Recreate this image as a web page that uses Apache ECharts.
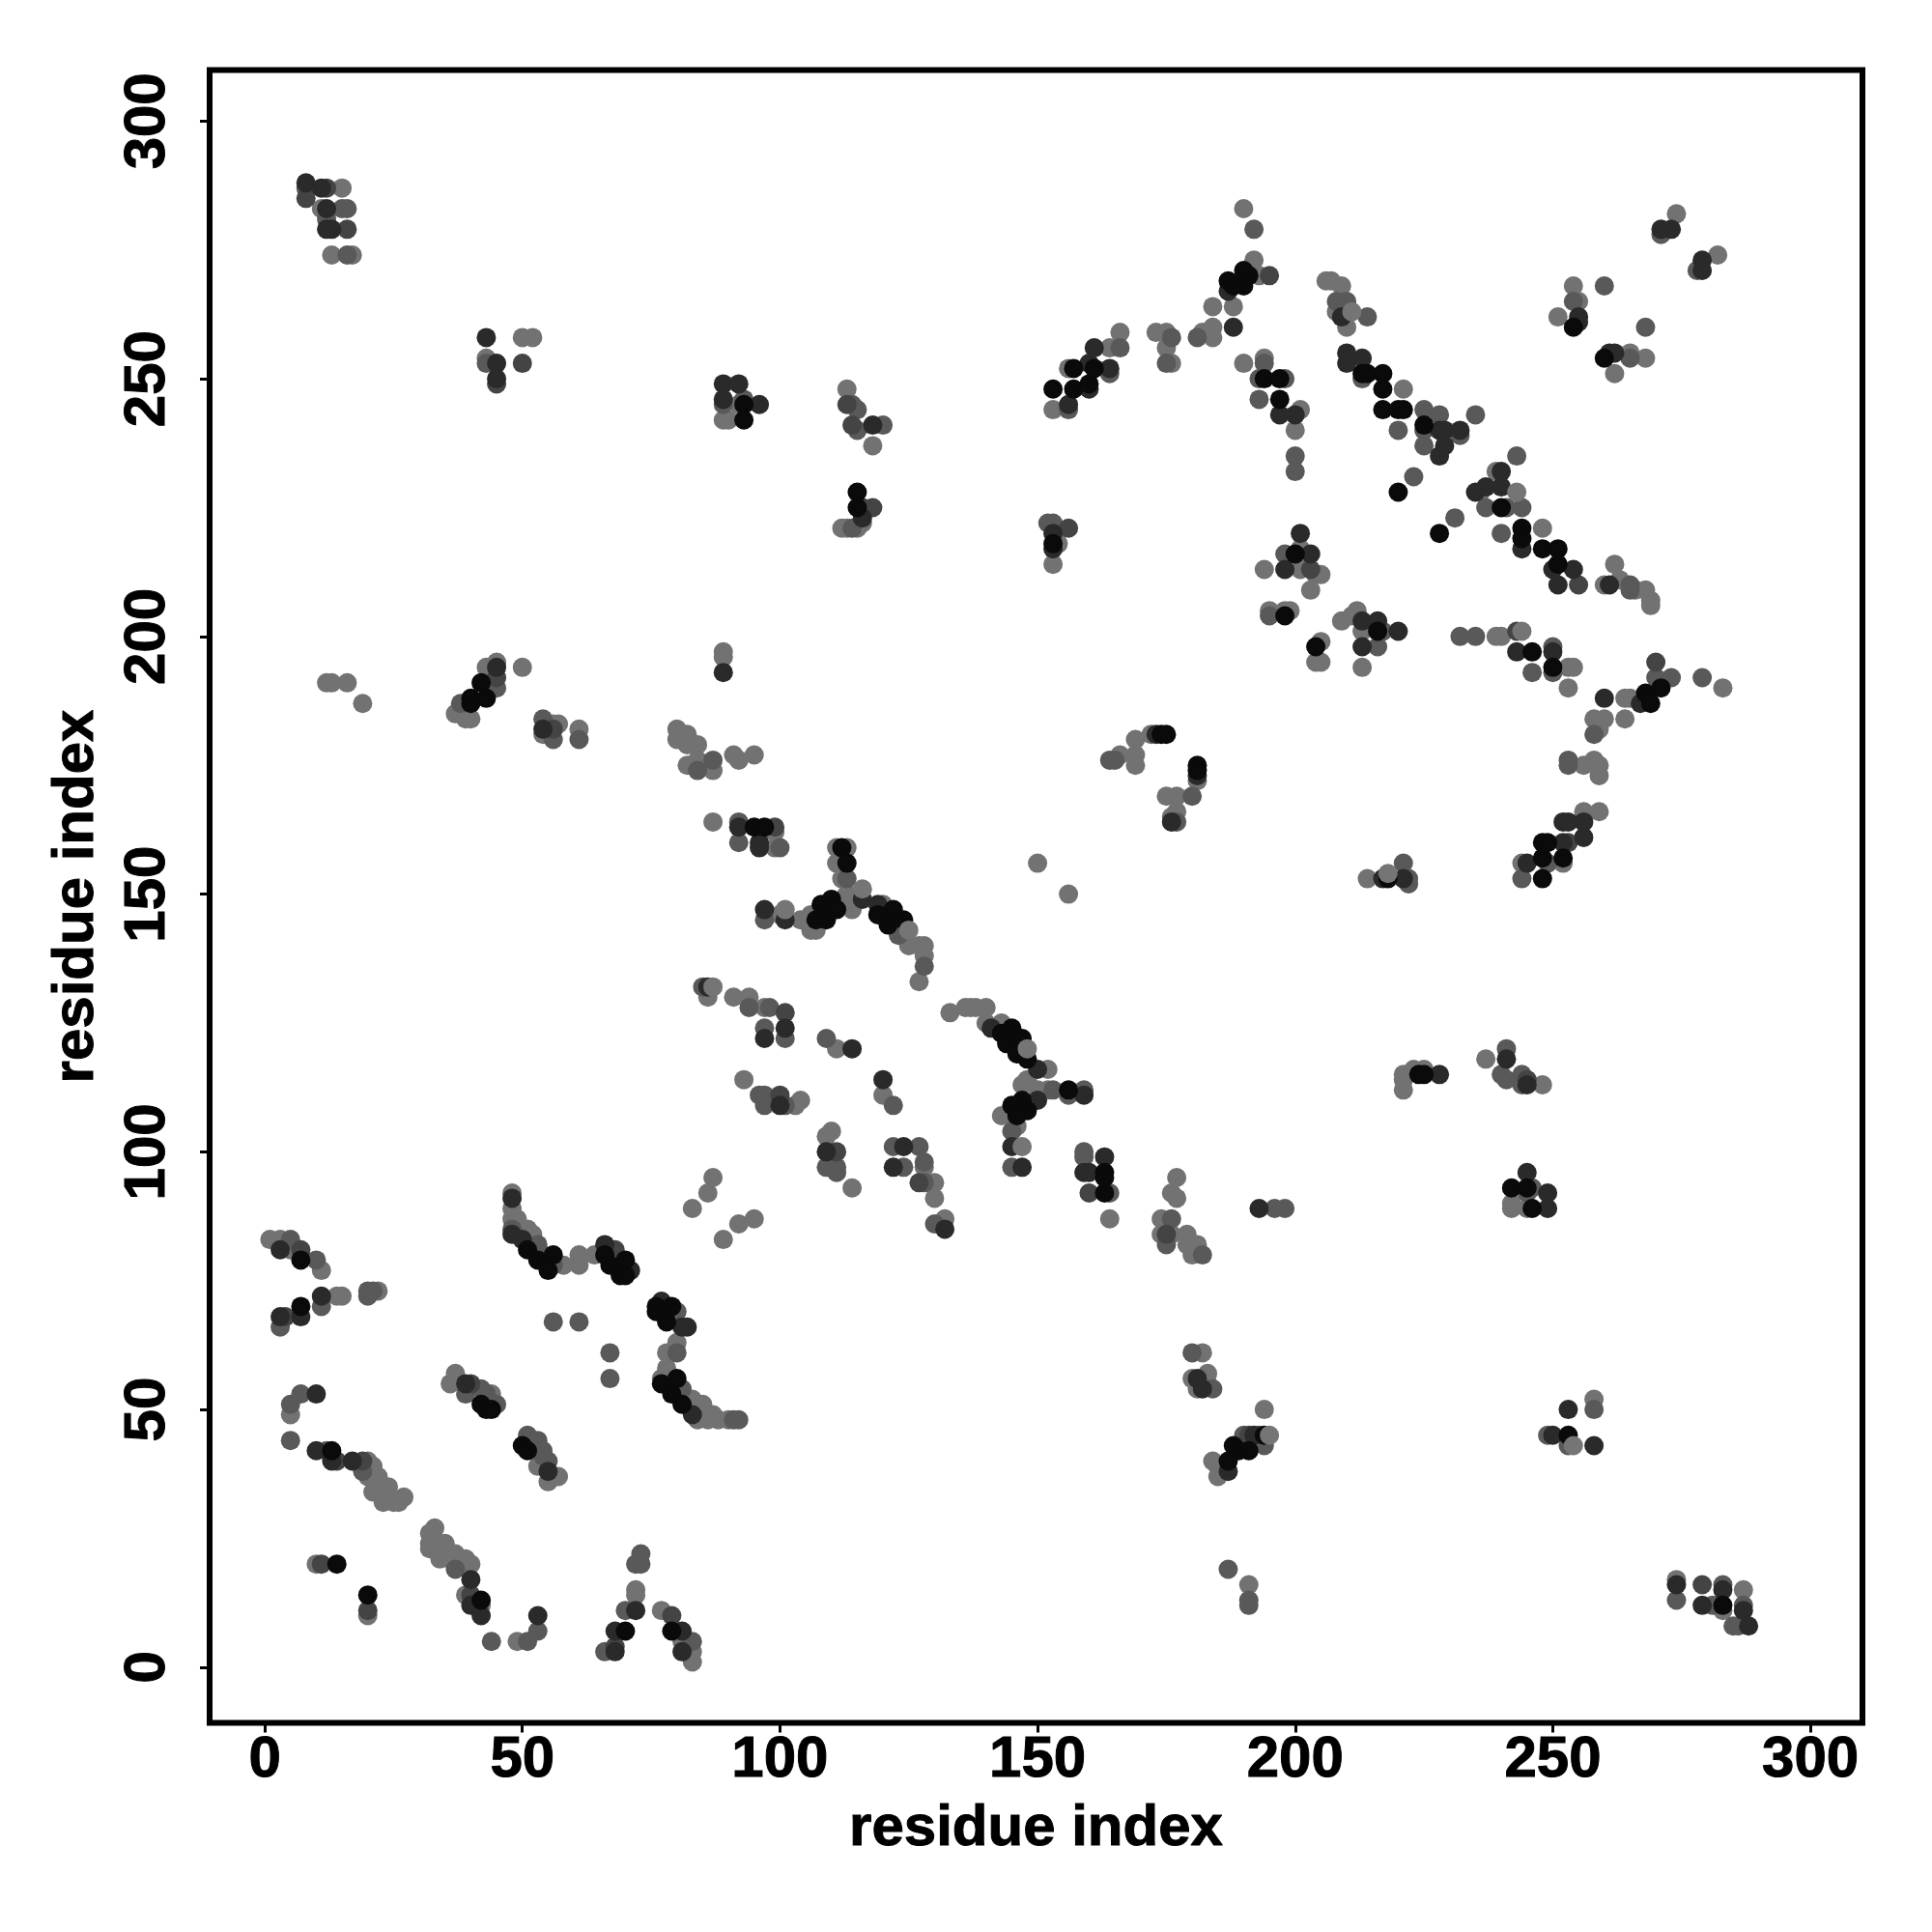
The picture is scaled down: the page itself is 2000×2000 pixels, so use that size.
<!DOCTYPE html>
<html><head><meta charset="utf-8">
<style>html,body{margin:0;padding:0;background:#fff}#c{width:2000px;height:2000px}</style>
<script src="https://cdn.jsdelivr.net/npm/echarts@6/dist/echarts.min.js"></script>
</head><body><div id="c"></div>
<script>
const tickValues=[0,50,100,150,200,250,300];
const axisTitle="residue index";
// contact pairs [residue i, residue j], grouped by strength, weakest first
const contactsWeakest=[[1,83],[3,83],[5,81],[11,77],[14,72],[15,72],[22,73],[5,49],[20,40],[21,39],[20,37],[22,37],[21,34],[23,33],[24,35],[23,32],[25,32],[27,33],[26,32],[33,27],[32,26],[32,24],[32,23],[34,24],[35,24],[34,21],[36,21],[37,22],[39,21],[40,20],[39,14],[42,12],[49,5],[10,20],[20,10],[72,14],[72,15],[77,11],[81,5],[83,3],[83,1],[37,57],[36,55],[44,53],[53,39],[55,36],[57,37],[48,92],[48,89],[48,87],[49,87],[51,85],[52,84],[58,78],[61,80],[61,78],[64,80],[80,63],[78,61],[78,58],[77,56],[83,52],[85,51],[84,48],[86,48],[87,49],[88,48],[90,48],[87,95],[86,92],[83,89],[95,87],[92,86],[89,83],
[87,164],[99,162],[99,159],[100,146],[104,145],[106,146],[106,143],[107,143],[111,159],[113,159],[111,156],[112,153],[113,150],[114,147],[114,149],[120,148],[125,140],[128,140],[127,140],[128,138],[127,133],[86,130],[91,130],[94,130],[97,128],[111,120],[93,114],[103,109],[104,110],[120,111],[110,104],[109,103],[114,93],[128,97],[130,94],[130,91],[132,87],[133,127],[136,128],[137,128],[138,128],[140,128],[140,125],[143,125],[152,116],[147,113],[148,114],[150,112],[152,112],[143,107],[146,105],[164,87],[177,95],[176,92],[177,91],[174,87],[174,84],[176,84],[179,84],[179,82],[181,82],[180,80],[150,156],[156,150],
[190,283],[192,273],[193,270],[188,264],[184,264],[184,260],[182,259],[184,258],[190,253],[194,254],[201,244],[200,240],[206,269],[207,269],[209,268],[208,263],[210,260],[221,248],[274,282],[282,274],[254,268],[255,265],[251,262],[265,255],[268,254],[262,251],[239,232],[236,228],[248,221],[262,214],[260,210],[263,211],[266,209],[268,209],[269,207],[269,206],[201,217],[194,213],[201,213],[204,212],[205,212],[203,209],[195,205],[198,205],[199,205],[205,199],[204,195],[205,195],[212,205],[209,203],[211,204],[213,201],[213,194],[239,200],[240,200],[253,194],[254,194],[253,190],[264,188],[265,188],[264,184],[283,190],[258,184],[260,184],[259,182],
[15,287],[11,283],[13,274],[17,274],[50,258],[52,258],[43,254],[92,245],[89,242],[90,242],[12,191],[13,191],[16,191],[19,187],[43,194],[45,195],[50,194],[37,185],[39,185],[39,184],[40,184],[54,181],[56,183],[57,183],[61,182],[80,182],[80,180],[82,181],[82,179],[84,179],[82,175],[84,176],[87,174],[91,177],[92,176],[95,177],[89,197],[89,196],[113,248],[118,237],[112,221],[113,221],[115,221],[116,222],[154,218],[153,214],[153,244],[156,252],[164,256],[166,259],[173,259],[175,259],[175,256],[176,253],[166,177],[169,180],[169,177],[169,175],[172,181],[175,169],[177,169],[177,166],[176,165],[181,172],[214,153],[244,156],[252,156],[256,166],[259,166],[256,175],[258,176],[259,175],[259,173],[223,116],[225,116],[221,115],[221,114],[221,112],[237,118],[248,113],[242,89],[242,90],[245,89],[183,57],[183,55],[180,56],[181,54],[182,61],[184,40],[185,39],[185,37],[194,50],[191,16],[258,52],[274,17],[283,11],[287,15]];
const contactsWeak=[[5,83],[3,66],[11,70],[20,72],[20,73],[21,73],[5,51],[7,53],[10,79],[5,44],[12,42],[19,38],[37,19],[44,5],[51,5],[53,7],[66,3],[70,11],[72,20],[73,20],[73,22],[83,5],[39,53],[42,54],[43,53],[45,51],[51,45],[53,44],[54,42],[54,41],[55,40],[48,85],[53,82],[54,80],[56,78],[67,61],[67,56],[56,67],[61,67],[80,69],[80,61],[79,55],[81,54],[91,48],[92,48],
[92,164],[92,160],[100,159],[97,145],[113,153],[85,132],[94,128],[98,128],[97,124],[101,122],[109,122],[96,111],[97,111],[97,109],[101,109],[122,109],[109,97],[111,97],[111,96],[122,101],[127,101],[124,97],[128,98],[128,94],[130,86],[123,142],[128,136],[153,112],[156,111],[159,112],[145,104],[145,97],[159,100],[159,99],[164,92],[176,87],[175,82],[182,80],
[192,279],[181,258],[194,253],[193,250],[198,250],[193,246],[200,235],[200,232],[208,265],[210,265],[214,262],[213,250],[225,244],[228,243],[225,240],[225,237],[232,239],[235,243],[220,240],[243,235],[237,225],[241,225],[244,225],[223,231],[231,223],[240,220],[198,216],[195,204],[217,201],[216,198],[232,200],[235,200],[246,193],[250,198],[250,193],[270,192],[273,192],[279,192],[253,175],[258,181],[271,278],[278,271],[260,268],[254,265],[268,260],[265,254],[265,210],[265,209],
[8,287],[12,281],[15,283],[16,283],[16,274],[43,253],[89,245],[93,246],[38,187],[45,190],[54,184],[56,180],[61,180],[84,174],[87,176],[114,245],[115,244],[115,240],[120,241],[114,221],[152,222],[153,222],[164,251],[166,256],[156,244],[176,258],[175,253],[180,169],[164,176],[165,176],[177,164],[221,156],[222,153],[222,152],[244,153],[249,156],[253,176],[240,115],[241,120],[241,114],[244,115],[244,113],[246,93],[245,92],[196,89],[198,89],[180,61],[184,54],[190,45],[193,45],[194,43],[190,43],[187,19],[191,13],[191,12],[258,50],[253,43],[249,45],[274,13],[281,12],[283,16],[287,12],[285,8],[286,8]];
const contactsMedium=[[7,81],[4,68],[14,40],[19,40],[11,20],[20,11],[40,14],[68,4],[79,10],[40,55],[67,81],[68,81],[99,163],[101,127],[100,111],[111,100],[127,94],[160,92],[175,84],[195,270],[203,213],[245,114],[255,210],[243,201],[270,195],[12,287],[16,279],[8,285],[50,253],[45,249],[45,192],[56,182],[113,245],[114,241],[116,225],[118,225],[156,221],[253,160],[191,45],[279,16]];
const contactsStrong=[[3,81],[3,68],[7,68],[11,72],[10,53],[10,42],[13,40],[17,40],[40,17],[40,12],[42,10],[53,10],[68,3],[68,7],[72,11],[81,7],[81,3],[39,55],[48,91],[48,84],[50,83],[66,82],[71,77],[77,71],[81,66],[82,66],[83,49],[55,38],
[92,163],[96,159],[96,160],[97,147],[101,145],[116,149],[119,148],[86,132],[101,124],[97,122],[114,120],[120,114],[100,109],[109,100],[124,101],[122,97],[132,85],[150,116],[150,110],[141,124],[145,101],[147,97],[159,111],[163,99],[159,96],[160,96],
[187,267],[188,260],[197,243],[200,243],[210,255],[210,253],[213,254],[228,240],[229,240],[232,240],[229,237],[228,235],[209,262],[240,232],[235,228],[237,229],[240,229],[244,217],[250,213],[254,213],[251,210],[261,210],[201,220],[203,216],[198,213],[213,203],[216,203],[220,201],[213,198],[243,197],[250,197],[260,188],[267,187],[271,279],[273,279],[279,273],[279,271],[255,262],[255,261],[261,255],[262,255],
[8,288],[11,287],[12,283],[12,279],[13,279],[43,258],[45,253],[45,250],[89,249],[92,249],[89,246],[96,245],[45,194],[89,193],[54,182],[118,241],[116,223],[153,220],[153,217],[156,245],[160,248],[160,253],[161,256],[164,252],[173,181],[181,173],[176,164],[217,153],[221,153],[228,115],[245,156],[252,160],[252,164],[253,164],[256,161],[256,164],[245,96],[249,92],[249,89],[241,118],[245,113],[193,89],[182,54],[181,56],[192,45],[187,38],[250,45],[258,43],[253,50],[274,16],[279,12],[283,15],[287,11],[288,8]];
const contactsStrongest=[[7,79],[7,70],[13,42],[14,20],[20,14],[42,13],[70,7],[42,51],[43,50],[44,50],[50,43],[51,42],[51,81],[53,79],[55,77],[56,80],[66,80],[67,78],[69,76],[70,79],[70,76],[76,70],[76,69],[79,70],[78,67],[77,55],[80,56],[79,53],[81,51],[79,7],
[95,163],[97,163],[107,145],[108,148],[109,145],[110,149],[111,147],[112,159],[113,156],[119,146],[121,144],[122,147],[124,145],[143,123],[145,124],[144,121],[147,122],[146,119],[148,118],[156,112],[147,110],[148,108],[145,109],[146,107],[163,96],[163,95],[163,92],
[187,269],[188,268],[190,268],[191,270],[190,271],[194,250],[197,250],[197,246],[200,216],[198,204],[204,198],[216,201],[213,251],[214,251],[217,251],[217,248],[217,244],[220,244],[221,244],[225,241],[240,225],[220,228],[228,220],[244,221],[244,219],[248,217],[251,217],[251,214],[246,197],[250,194],[271,190],[268,189],[269,187],[254,260],[260,254],
[153,248],[157,248],[157,252],[160,249],[161,252],[153,218],[115,228],[115,225],[93,245],[93,242],[40,188],[40,187],[42,191],[43,188],[174,181],[175,181],[181,175],[181,174],[218,153],[224,115],[225,115],[248,153],[248,157],[248,160],[249,160],[252,157],[242,93],[245,93],[246,89],[194,45],[188,43],[191,42],[189,42],[187,40],[253,45],[283,12]];
const contactsPaleOver=[[87,132],[101,147],[148,120],[147,101],[218,154],[254,43],[195,45],[116,151],[125,143],[243,228],[244,201],[211,263]];

const groups=[
  [contactsWeakest,'#727272'],[contactsWeak,'#595959'],[contactsMedium,'#444444'],
  [contactsStrong,'#2a2a2a'],[contactsStrongest,'#0a0a0a'],[contactsPaleOver,'#757575']
];
const font={fontFamily:'"Liberation Sans"',fontWeight:'bold',fontSize:60,color:'#000',textBorderColor:'#000',textBorderWidth:1};
const chart=echarts.init(document.getElementById('c'),null,{renderer:'canvas'});
chart.setOption({
  animation:false,backgroundColor:'#fff',
  grid:{show:true,left:217,top:72.5,width:1711,height:1711,borderColor:'#000',borderWidth:6,backgroundColor:'#fff'},
  xAxis:{type:'value',min:-10.7,max:310.1,splitLine:{show:false},axisLine:{show:false,onZero:false},
    axisTick:{show:true,length:10,customValues:tickValues,lineStyle:{color:'#000',width:3}},
    axisLabel:Object.assign({margin:9,customValues:tickValues,showMinLabel:true,showMaxLabel:true},font),
    name:axisTitle,nameLocation:'middle',nameGap:80,nameTextStyle:font},
  yAxis:{type:'value',min:-10.8,max:309.9,splitLine:{show:false},axisLine:{show:false,onZero:false},
    axisTick:{show:true,length:10,customValues:tickValues,lineStyle:{color:'#000',width:3}},
    axisLabel:Object.assign({margin:34,rotate:90,customValues:tickValues,showMinLabel:true,showMaxLabel:true},font),
    name:axisTitle,nameLocation:'middle',nameGap:108,nameTextStyle:font},
  series:groups.map(([pts,col])=>({type:'scatter',data:pts,symbol:'circle',symbolSize:20,silent:true,itemStyle:{color:col,opacity:1}}))
});
</script></body></html>
